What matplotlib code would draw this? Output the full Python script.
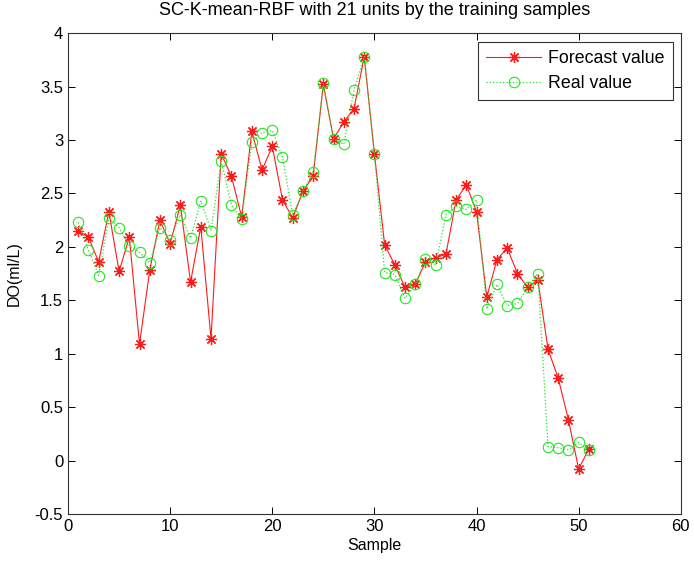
import matplotlib.pyplot as plt
import numpy as np

plt.rcParams['font.family'] = ['Liberation Sans', 'DejaVu Sans']

# sample index 1..51
sample = list(range(1, 52))

forecast = [2.15, 2.09, 1.86, 2.33, 1.77, 2.09, 1.09, 1.78, 2.25, 2.03,
            2.39, 1.67, 2.19, 1.14, 2.87, 2.66, 2.28, 3.08, 2.72, 2.94,
            2.44, 2.27, 2.52, 2.66, 3.52, 3.01, 3.17, 3.29, 3.78, 2.87,
            2.02, 1.83, 1.62, 1.65, 1.86, 1.90, 1.93, 2.44, 2.58, 2.33,
            1.53, 1.88, 1.99, 1.75, 1.62, 1.69, 1.04, 0.77, 0.38, -0.08,
            0.11]

real = [2.23, 1.97, 1.73, 2.27, 2.18, 2.01, 1.95, 1.85, 2.18, 2.06,
        2.30, 2.08, 2.43, 2.15, 2.80, 2.39, 2.26, 2.98, 3.07, 3.09,
        2.84, 2.30, 2.52, 2.70, 3.53, 3.01, 2.96, 3.47, 3.78, 2.87,
        1.76, 1.74, 1.52, 1.65, 1.89, 1.83, 2.30, 2.38, 2.35, 2.44,
        1.42, 1.65, 1.45, 1.47, 1.62, 1.75, 0.13, 0.12, 0.10, 0.17,
        0.10]

fig = plt.figure(figsize=(6.94, 5.65), dpi=100)
ax = fig.add_axes([0.098, 0.0903, 0.883, 0.851])

# matlab style asterisk: 8 arms
ax.plot(sample, forecast, color='#ff1a1a', linestyle='-', linewidth=0.8,
        marker=(8, 2, 0), markersize=8, markeredgewidth=0.9, label='Forecast value')
ax.plot(sample, real, color='#22e622', linestyle=':', linewidth=0.9,
        marker='o', markersize=7.5, markerfacecolor='none', markeredgewidth=0.8,
        label='Real value')

ax.set_xlim(0, 60)
ax.set_ylim(-0.5, 4)
ax.set_xticks(np.arange(0, 61, 10))
ax.set_yticks(np.arange(-0.5, 4.01, 0.5))
ax.set_yticklabels(['-0.5', '0', '0.5', '1', '1.5', '2', '2.5', '3', '3.5', '4'])
ax.tick_params(direction='in', top=True, right=True, labelsize=12, length=5, width=0.7)
for s in ax.spines.values():
    s.set_linewidth(0.8)
    s.set_color('#333333')
ax.set_xlabel('Sample', fontsize=11.5, labelpad=3)
ax.set_ylabel('DO(ml/L)', fontsize=11.5, labelpad=9)
fig.text(0.54, 0.981, 'SC-K-mean-RBF with 21 units by the training samples',
         fontsize=13, ha='center', va='center')

leg = ax.legend(loc='upper right', bbox_to_anchor=(0.987, 0.982), borderaxespad=0,
                fontsize=12.8, fancybox=False, framealpha=1, edgecolor='#333333',
                handlelength=3.1, handletextpad=0.4, borderpad=0.45, labelspacing=0.45)
leg.get_frame().set_linewidth(0.8)

fig.savefig('out.png', dpi=100)
